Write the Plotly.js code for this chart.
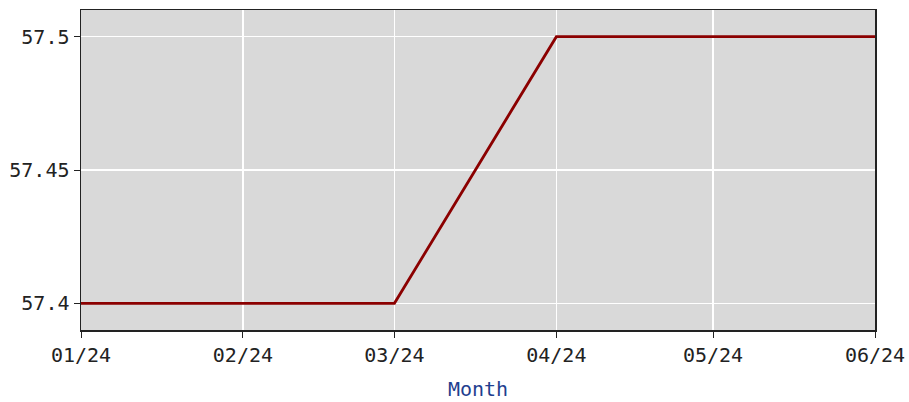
<!DOCTYPE html>
<html><head><meta charset="utf-8">
<script src="https://cdn.plot.ly/plotly-3.0.1.min.js"></script>
<style>html,body{margin:0;padding:0;background:#fff}#chart{width:909px;height:402px}</style>
</head><body><div id="chart"></div>
<script>
const months = ["2024-01-01","2024-02-01","2024-03-01","2024-04-01","2024-05-01","2024-06-01"];
const values = [57.4, 57.4, 57.4, 57.5, 57.5, 57.5];
const yTicks = [57.4, 57.45, 57.5];
const yTickLabels = ["57.4", "57.45", "57.5"];
const xTitle = "Month";

const font = "DejaVu Sans Mono, monospace";
Plotly.newPlot("chart", [{
  x: months, y: values, type: "scatter", mode: "lines",
  line: {color: "#8b0000", width: 2.8}, hoverinfo: "skip"
}], {
  width: 909, height: 402,
  margin: {l: 81, r: 34, t: 10, b: 72},
  paper_bgcolor: "#ffffff", plot_bgcolor: "#d9d9d9",
  showlegend: false,
  xaxis: {
    type: "date", range: ["2024-01-01", "2024-06-01"],
    tickvals: months, tickformat: "%m/%y",
    showgrid: true, gridcolor: "#ffffff", gridwidth: 1.5,
    showline: true, linecolor: "#222", linewidth: 1.5, mirror: true,
    ticks: "outside", ticklen: 6, tickcolor: "#222",
    tickfont: {family: font, size: 20, color: "#222"},
    title: {text: xTitle, font: {family: font, size: 20, color: "#1f3f8f"}, standoff: 16},
    zeroline: false
  },
  yaxis: {
    range: [57.39, 57.51],
    tickvals: yTicks, ticktext: yTickLabels,
    showgrid: true, gridcolor: "#ffffff", gridwidth: 1.5,
    showline: true, linecolor: "#222", linewidth: 1.5, mirror: true,
    ticks: "outside", ticklen: 6, tickcolor: "#222",
    tickfont: {family: font, size: 20, color: "#222"},
    zeroline: false
  }
}, {staticPlot: true});
</script></body></html>
